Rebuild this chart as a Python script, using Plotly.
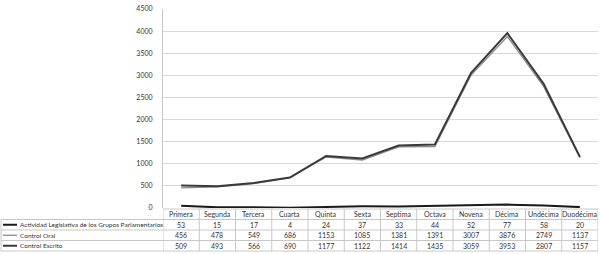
import plotly.graph_objects as go

categories = ["Primera", "Segunda", "Tercera", "Cuarta", "Quinta", "Sexta", "Septima",
              "Octava", "Novena", "Décima", "Undécima", "Duodécima"]
series_names = ["Actividad Legislativa de los Grupos Parlamentarios", "Control Oral", "Control Escrito"]
actividad = [53, 15, 17, 4, 24, 37, 33, 44, 52, 77, 58, 20]
control_oral = [456, 478, 549, 686, 1153, 1085, 1381, 1391, 3007, 3876, 2749, 1137]
control_escrito = [509, 493, 566, 690, 1177, 1122, 1414, 1435, 3059, 3953, 2807, 1157]
y_ticks = [0, 500, 1000, 1500, 2000, 2500, 3000, 3500, 4000, 4500]

series_values = [actividad, control_oral, control_escrito]
line_colors = ["#1a1a1a", "#8a8a8a", "#3a3a3a"]
line_widths = [2, 1.3, 2]

W, H = 600, 254
L, R, T, B = 163, 2, 9, 46
PW, PH = W - L - R, H - T - B
FONT = "Lato"
TXT = "#333333"
BORDER = "#c8c8c8"

def px2x(px):
    return (px - L) / PW

def py2y(py):
    return (H - B - py) / PH

fig = go.Figure()
xs = list(range(len(categories)))
for idx in [1, 2, 0]:
    fig.add_trace(go.Scatter(x=xs, y=series_values[idx], mode="lines", name=series_names[idx],
                             line=dict(color=line_colors[idx], width=line_widths[idx]),
                             showlegend=False, hoverinfo="skip"))

shapes = []
annotations = []
row_edges = [209, 219.5, 230, 240.5, 251]
for i, py in enumerate(row_edges):
    x0 = px2x(1) if i >= 1 else 0
    shapes.append(dict(type="line", xref="paper", yref="paper", x0=x0, x1=1,
                       y0=py2y(py), y1=py2y(py), line=dict(color=BORDER, width=1)))
for i in range(len(categories) + 1):
    shapes.append(dict(type="line", xref="x", yref="paper", x0=i - 0.5, x1=i - 0.5,
                       y0=py2y(row_edges[0]), y1=py2y(row_edges[-1]),
                       line=dict(color=BORDER, width=1)))
shapes.append(dict(type="line", xref="paper", yref="paper", x0=px2x(1), x1=px2x(1),
                   y0=py2y(row_edges[1]), y1=py2y(row_edges[-1]), line=dict(color=BORDER, width=1)))

for i, c in enumerate(categories):
    annotations.append(dict(x=i, y=py2y((row_edges[0] + row_edges[1]) / 2), xref="x", yref="paper",
                            text=c, showarrow=False, font=dict(family=FONT, size=7, color=TXT),
                            xanchor="center", yanchor="middle"))
for r, (name, vals) in enumerate(zip(series_names, series_values)):
    yc = py2y((row_edges[r + 1] + row_edges[r + 2]) / 2)
    for i, v in enumerate(vals):
        annotations.append(dict(x=i, y=yc, xref="x", yref="paper", text=str(v), showarrow=False,
                                font=dict(family=FONT, size=7, color=TXT),
                                xanchor="center", yanchor="middle"))
    annotations.append(dict(x=px2x(18), y=yc, xref="paper", yref="paper", text=name, showarrow=False,
                            font=dict(family=FONT, size=6.5, color=TXT),
                            xanchor="left", yanchor="middle"))
    shapes.append(dict(type="line", xref="paper", yref="paper", x0=px2x(3), x1=px2x(17),
                       y0=yc, y1=yc, line=dict(color=line_colors[r], width=line_widths[r])))

fig.update_layout(
    width=W, height=H,
    margin=dict(l=L, r=R, t=T, b=B),
    paper_bgcolor="white", plot_bgcolor="white",
    shapes=shapes, annotations=annotations,
    xaxis=dict(range=[-0.5, len(categories) - 0.5], showticklabels=False, showgrid=False,
               zeroline=False, showline=False, ticks=""),
    yaxis=dict(range=[0, 4500], tickvals=y_ticks, showgrid=True, gridcolor="#d9d9d9", gridwidth=1,
               zeroline=False, showline=True, linecolor=BORDER, linewidth=1, ticks="",
               ticklen=0, ticklabelstandoff=8, tickfont=dict(family=FONT, size=7, color=TXT)),
)
fig.write_html("out.html", config={"displayModeBar": False, "staticPlot": True},
               post_script="document.body.style.margin='0';document.body.style.overflow='hidden';")
